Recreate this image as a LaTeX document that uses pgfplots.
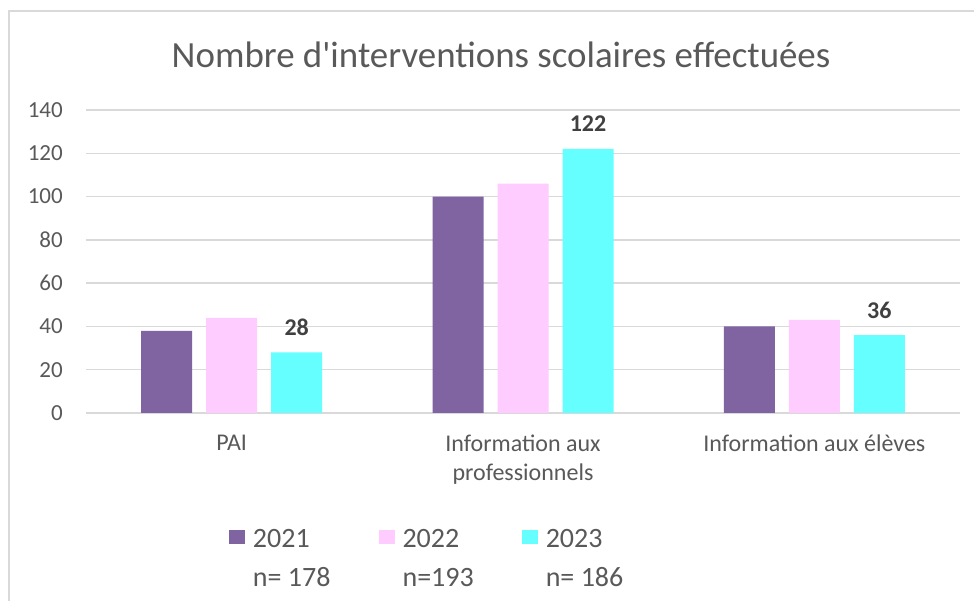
\documentclass[border=0pt]{standalone}
\usepackage{pgfplots}
\pgfplotsset{compat=1.18}
\usepackage{fontspec}
\setmainfont{Carlito}
\newfontfamily\plainfont{Carlito}
\definecolor{c21}{HTML}{8064A2}
\definecolor{c22}{HTML}{FFCCFF}
\definecolor{c23}{HTML}{66FFFF}
\definecolor{txt}{HTML}{595959}
\definecolor{lbl}{HTML}{404040}
\definecolor{grd}{HTML}{D9D9D9}
\newcommand\legtwo[2]{\vtop{\baselineskip=39pt\hbox{#1}\hbox{#2}}}
\pgfplotsset{sq/.style={legend image code/.code={\fill[##1] (0pt,3pt) rectangle (16pt,17pt);}}}
\begin{document}
\begin{tikzpicture}[x=1pt,y=1pt]
\useasboundingbox (0,0) rectangle (974,601);
\fill[white] (0,0) rectangle (974,601);
\draw[grd, line width=2pt] (9,0) -- (9,590) -- (974,590);
\node[anchor=base, text=txt, font=\plainfont\fontsize{36.9pt}{44pt}\selectfont, inner sep=0pt] at (501,533) {Nombre d'interventions scolaires effectuées};
\begin{axis}[
  at={(86pt,188pt)}, anchor=south west,
  scale only axis, width=874pt, height=303pt,
  xmin=-0.5, xmax=2.5, ymin=0, ymax=140,
  ytick={0,20,...,140},
  xtick={0,1,2},
  xticklabels={{PAI},{Information aux\\professionnels},{Information aux élèves}},
  ybar=14pt, bar width=51pt,
  axis line style={draw=none}, major tick length=0pt,
  ymajorgrids, grid style={grd, line width=1.5pt},
  tick label style={text=txt, font=\fontsize{23pt}{28pt}\selectfont},
  xticklabel style={font=\fontsize{24pt}{29pt}\selectfont, align=center, anchor=north, inner sep=0pt, yshift=-22pt},
  yticklabel style={anchor=east, inner sep=0pt, xshift=-23pt},
  /pgf/number format/assume math mode=true,
  legend style={at={(axis description cs:0.1636,-0.3838)}, anchor=north west,
    draw=none, fill=none, inner sep=0pt, outer sep=0pt, legend columns=3,
    cells={anchor=base west},
    nodes={inner sep=0pt, text=txt, font=\fontsize{28pt}{34pt}\selectfont},
    /tikz/every odd column/.append style={column sep=8pt},
    /tikz/every even column/.append style={column sep=48pt}},
]
\addplot[draw=none, fill=c21, sq] coordinates {(0,38) (1,100) (2,40)};
\addplot[draw=none, fill=c22, sq] coordinates {(0,44) (1,106) (2,43)};
\addplot[draw=none, fill=c23, sq, nodes near coords,
  nodes near coords style={font=\bfseries\fontsize{24pt}{29pt}\selectfont, text=lbl, anchor=base, inner sep=0pt, yshift=17pt}]
  coordinates {(0,28) (1,122) (2,36)};
\legend{\legtwo{2021}{n= 178},\legtwo{2022}{n=193},\legtwo{2023}{n= 186}}
\end{axis}
\end{tikzpicture}
\end{document}
